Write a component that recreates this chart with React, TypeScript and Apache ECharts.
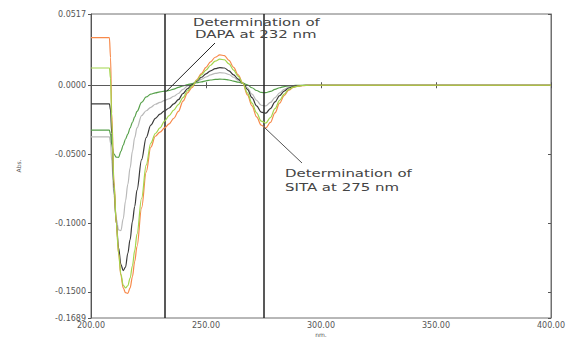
import React, { useEffect, useRef } from "react";
import * as echarts from "echarts";

// Wavelength (nm) sample points
const wavelengths = [
  200, 208, 208.5, 209, 210, 211, 212, 213, 214, 215, 216, 217, 218, 219, 220,
  222, 224, 226, 228, 230, 232, 234, 236, 238, 240, 242, 244, 246, 248, 250,
  252, 254, 256, 258, 260, 262, 264, 266, 268, 270, 272, 274, 276, 278, 280,
  282, 284, 286, 288, 290, 292, 295, 300, 320, 340, 360, 380, 400,
];

const absOrange = [
  0.0345, 0.0345, 0.02, -0.02, -0.07, -0.1, -0.122, -0.138, -0.147, -0.1505,
  -0.151, -0.147, -0.139, -0.128, -0.117, -0.089, -0.063, -0.045, -0.037, -0.034,
  -0.031, -0.028, -0.024, -0.019, -0.0115, -0.0055, -0.0015, 0.004, 0.0085, 0.013,
  0.017, 0.0203, 0.022, 0.0215, 0.018, 0.013, 0.0075, 0.0015, -0.007, -0.015,
  -0.023, -0.029, -0.031, -0.027, -0.02, -0.013, -0.0075, -0.0035, -0.0015, -0.0007,
  -0.0003, 0, 0, 0, 0, 0, 0, 0,
];

const absLightGreen = [
  0.0125, 0.0125, 0.005, -0.025, -0.072, -0.1, -0.122, -0.137, -0.145, -0.147,
  -0.1455, -0.14, -0.131, -0.12, -0.108, -0.082, -0.058, -0.042, -0.035, -0.031,
  -0.026, -0.022, -0.018, -0.014, -0.009, -0.004, -0.0005, 0.0035, 0.0075, 0.011,
  0.0145, 0.0175, 0.0189, 0.0185, 0.0155, 0.011, 0.0065, 0.0015, -0.0055, -0.013,
  -0.02, -0.026, -0.0275, -0.0235, -0.017, -0.011, -0.0065, -0.003, -0.0013, -0.0006,
  -0.0002, 0, 0, 0, 0, 0, 0, 0,
];

const absBlack = [
  -0.0135, -0.0135, -0.018, -0.035, -0.075, -0.1, -0.118, -0.13, -0.1345, -0.132,
  -0.122, -0.112, -0.099, -0.088, -0.076, -0.054, -0.038, -0.029, -0.024, -0.021,
  -0.0185, -0.0165, -0.0135, -0.0105, -0.006, -0.0025, 0.0005, 0.003, 0.0058, 0.0083,
  0.0105, 0.012, 0.0128, 0.0125, 0.0105, 0.0075, 0.0045, 0.0015, -0.003, -0.009,
  -0.015, -0.0195, -0.0203, -0.017, -0.012, -0.0075, -0.0042, -0.002, -0.001, -0.0005,
  -0.0002, 0, 0, 0, 0, 0, 0, 0,
];

const absLightGray = [
  -0.0375, -0.0375, -0.042, -0.055, -0.08, -0.097, -0.105, -0.1055, -0.097, -0.084,
  -0.072, -0.06, -0.048, -0.038, -0.031, -0.022, -0.0185, -0.016, -0.0138, -0.0125,
  -0.011, -0.0098, -0.008, -0.006, -0.003, -0.0005, 0.001, 0.0025, 0.0043, 0.006,
  0.0075, 0.0086, 0.0091, 0.0089, 0.0078, 0.0058, 0.0037, 0.0015, -0.0018, -0.0065,
  -0.011, -0.0145, -0.015, -0.0125, -0.009, -0.0055, -0.003, -0.0015, -0.0007, -0.0003,
  -0.0001, 0, 0, 0, 0, 0, 0, 0,
];

const absDarkGreen = [
  -0.0325, -0.0325, -0.036, -0.043, -0.05, -0.0522, -0.0523, -0.048, -0.0435, -0.039,
  -0.0355, -0.031, -0.027, -0.023, -0.019, -0.0125, -0.0085, -0.0065, -0.0055, -0.0048,
  -0.0043, -0.0038, -0.0028, -0.0015, -0.0005, 0.0005, 0.0012, 0.0018, 0.0025, 0.0032,
  0.0038, 0.0042, 0.0044, 0.0043, 0.0038, 0.003, 0.0022, 0.0015, 0.0002, -0.0018,
  -0.0038, -0.0052, -0.0054, -0.0045, -0.003, -0.0018, -0.001, -0.0005, -0.0002, -0.0001,
  0, 0, 0, 0, 0, 0, 0, 0,
];

const yTickValues = [-0.1689, -0.15, -0.1, -0.05, 0, 0.0517];
const yMin = -0.1689;
const yMax = 0.0517;
const xMin = 200;
const xMax = 400;
const xInterval = 50;
const markWavelengths = [232, 275];
const xAxisTitle = "nm.";
const yAxisTitle = "Abs.";
const annotation1 = ["Determination of", "DAPA at 232 nm"];
const annotation2 = ["Determination of", "SITA at 275 nm"];

export default function App() {
  const ref = useRef<HTMLDivElement>(null);

  useEffect(() => {
    const chart = echarts.init(ref.current!, null, { renderer: "svg" });
    const pairs = (vals: number[]) => wavelengths.map((w, i) => [w, vals[i]]);
    const curves = [
      { name: "c5", vals: absLightGray, color: "#b9b9b9" },
      { name: "c4", vals: absDarkGreen, color: "#56a04a" },
      { name: "c3", vals: absBlack, color: "#3a3a3a" },
      { name: "c1", vals: absOrange, color: "#f7894a" },
      { name: "c2", vals: absLightGreen, color: "#a2d54c" },
    ];
    const labelFont = { fontFamily: "DejaVu Sans", fontSize: 8, color: "#555" };

    const series: any[] = curves.map((c, i) => ({
      type: "line",
      name: c.name,
      data: pairs(c.vals),
      showSymbol: false,
      smooth: 0.35,
      smoothMonotone: "x",
      lineStyle: { color: c.color, width: 1.2 },
      itemStyle: { color: c.color },
      z: 3 + i,
      silent: true,
    }));
    series.push({
      type: "line",
      data: [],
      silent: true,
      z: 2,
      markLine: {
        silent: true,
        symbol: ["none", "none"],
        label: { show: false },
        lineStyle: { color: "#5a5a5a", width: 1, type: "solid" },
        data: [{ yAxis: 0 }],
      },
    });
    series.push({
      type: "line",
      data: [],
      silent: true,
      z: 10,
      markLine: {
        silent: true,
        symbol: ["none", "none"],
        label: { show: false },
        lineStyle: { color: "#222", width: 1.5, type: "solid" },
        data: markWavelengths.map((w) => ({ xAxis: w })),
      },
    });

    chart.setOption({
      animation: false,
      backgroundColor: "#ffffff",
      grid: {
        left: 91,
        right: 20,
        top: 14,
        bottom: 21,
        show: true,
        borderColor: "#707070",
        borderWidth: 1,
        containLabel: false,
        outerBoundsMode: "none",
      },
      xAxis: [
        {
          type: "value",
          min: xMin,
          max: xMax,
          interval: xInterval,
          position: "bottom",
          axisLine: { show: true, lineStyle: { color: "#707070" } },
          axisTick: { show: true, inside: true, length: 3, lineStyle: { color: "#555" } },
          axisLabel: {
            ...labelFont,
            margin: 3,
            formatter: (v: number) => v.toFixed(2),
          },
          splitLine: { show: false },
        },
        {
          type: "value",
          min: xMin,
          max: xMax,
          interval: xInterval,
          position: "top",
          axisLine: { show: true, lineStyle: { color: "#707070" } },
          axisTick: { show: true, inside: true, length: 3, lineStyle: { color: "#555" } },
          axisLabel: { show: false },
          splitLine: { show: false },
        },
      ],
      yAxis: [
        {
          type: "value",
          min: yMin,
          max: yMax,
          position: "left",
          name: yAxisTitle,
          nameLocation: "middle",
          nameGap: 70,
          nameRotate: 90,
          nameTextStyle: { fontFamily: "DejaVu Sans", fontSize: 6, color: "#555" },
          axisLine: { show: true, lineStyle: { color: "#555" } },
          axisTick: {
            show: true,
            inside: false,
            length: 3,
            customValues: yTickValues,
            lineStyle: { color: "#555" },
          },
          axisLabel: {
            ...labelFont,
            margin: 5,
            customValues: yTickValues,
            formatter: (v: number) => v.toFixed(4),
          },
          splitLine: { show: false },
        },
        {
          type: "value",
          min: yMin,
          max: yMax,
          position: "right",
          axisLine: { show: true, lineStyle: { color: "#707070" } },
          axisTick: {
            show: true,
            inside: true,
            length: 3,
            customValues: yTickValues,
            lineStyle: { color: "#555" },
          },
          axisLabel: { show: false },
          splitLine: { show: false },
        },
      ],
      series,
    });

    // Anchor the leader lines on curve values at the marked wavelengths
    const i232 = wavelengths.indexOf(232);
    const a1 = chart.convertToPixel({ xAxisIndex: 0, yAxisIndex: 0 }, [
      markWavelengths[0],
      absDarkGreen[i232],
    ]) as number[];
    const a2 = chart.convertToPixel({ xAxisIndex: 0, yAxisIndex: 0 }, [
      markWavelengths[1],
      (absOrange[wavelengths.indexOf(274)] + absOrange[wavelengths.indexOf(276)]) / 2,
    ]) as number[];
    const xMid = chart.convertToPixel({ xAxisIndex: 0 }, (xMin + xMax) / 2) as number;

    const txt = (text: string, x: number, y: number, sx: number) => ({
      type: "text",
      x,
      y,
      scaleX: sx,
      z: 100,
      style: {
        text,
        x: 0,
        y: 0,
        font: '11px "DejaVu Sans"',
        fill: "#444",
        textAlign: "left",
        textVerticalAlign: "middle",
      },
    });

    chart.setOption({
      graphic: [
        {
          type: "line",
          z: 100,
          shape: { x1: a1[0] + 2, y1: a1[1], x2: 215, y2: 43 },
          style: { stroke: "#222", lineWidth: 1 },
        },
        {
          type: "line",
          z: 100,
          shape: { x1: a2[0], y1: a2[1], x2: 302, y2: 163 },
          style: { stroke: "#555", lineWidth: 1 },
        },
        txt(annotation1[0], 193, 22, 1.36),
        txt(annotation1[1], 195, 34, 1.36),
        txt(annotation2[0], 285, 173.5, 1.36),
        txt(annotation2[1], 285, 187, 1.36),
        {
          type: "text",
          x: xMid,
          y: 334.5,
          z: 100,
          style: {
            text: xAxisTitle,
            font: '6px "DejaVu Sans"',
            fill: "#555",
            textAlign: "center",
            textVerticalAlign: "middle",
          },
        },
      ],
    });

    return () => chart.dispose();
  }, []);

  return (
    <div
      ref={ref}
      style={{ position: "fixed", left: 0, top: 0, width: 571, height: 339 }}
    />
  );
}
